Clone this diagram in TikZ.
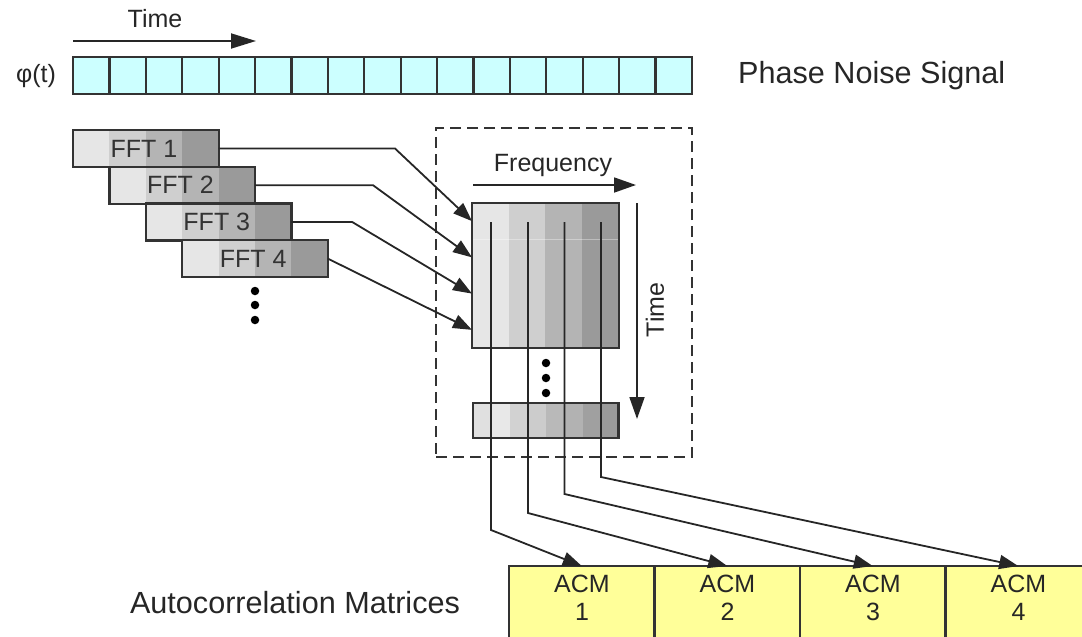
\documentclass[tikz,border=0pt]{standalone}
\usepackage{fontspec}
\setmainfont{Liberation Sans}
\usetikzlibrary{arrows.meta}
\definecolor{cyanc}{HTML}{CCFFFF}
\definecolor{acmc}{HTML}{FFFF99}
\definecolor{edge}{HTML}{333333}
\definecolor{gA}{HTML}{E6E6E6}
\definecolor{gB}{HTML}{CFCFCF}
\definecolor{gC}{HTML}{B4B4B4}
\definecolor{gD}{HTML}{9A9A9A}
\definecolor{s1}{HTML}{E0E0E0}
\definecolor{s2}{HTML}{E8E8E8}
\definecolor{s3}{HTML}{D2D2D2}
\definecolor{s4}{HTML}{CCCCCC}
\definecolor{s5}{HTML}{B9B9B9}
\definecolor{s6}{HTML}{B2B2B2}
\definecolor{s7}{HTML}{A0A0A0}
\definecolor{s8}{HTML}{9A9A9A}
\begin{document}
\begin{tikzpicture}[x=1pt,y=-1pt,
  bigtxt/.style={font=\fontsize{30.6}{36}\selectfont, inner sep=0, text=black!85},
  smalltxt/.style={font=\fontsize{25}{28}\selectfont, inner sep=0, text=black!85},
  box/.style={draw=edge, line width=2.2pt, inner sep=0, outer sep=0},
  conn/.style={draw=black!85, line width=1.8pt},
  tip/.style={-{Triangle[length=19pt,width=14pt]}},
  bigtip/.style={-{Triangle[length=22pt,width=15pt]}},
  blob/.style={circle, fill=black, inner sep=0, minimum size=8.5pt}
]
\useasboundingbox (0,0) rectangle (1082,637);

% ---- phase noise signal ----
\node[smalltxt] (timetop) at (155,19) {Time};
\coordinate (ta) at (73,41);
\coordinate (tb) at (256,41);
\draw[conn, -{Triangle[length=25pt,width=15pt]}] (ta) -- (tb);
\node[smalltxt] (phi) at (36,76) {φ(t)};
\node[box, fill=cyanc, minimum width=619pt, minimum height=37pt, anchor=north west] (phase) at (73,57) {};
\foreach \i in {1,...,16} \draw[edge, line width=2.2pt] (73+\i*36.41,57) -- ++(0,37);
\node[bigtxt, anchor=west] (pns) at (738,76) {Phase Noise Signal};

% ---- FFT blocks ----
\foreach \k in {1,...,4} {
  \pgfmathsetmacro\xo{73+(\k-1)*36.4}
  \pgfmathsetmacro\yo{130+(\k-1)*36.7}
  \fill[gA] (\xo,\yo) rectangle ++(36.4,37);
  \fill[gB] (\xo+36.4,\yo) rectangle ++(36.4,37);
  \fill[gC] (\xo+72.8,\yo) rectangle ++(36.4,37);
  \fill[gD] (\xo+109.2,\yo) rectangle ++(36.4,37);
  \node[box, minimum width=145.6pt, minimum height=37pt, anchor=north west] (fft\k) at (\xo,\yo) {};
  \node[smalltxt, text=edge] (fftt\k) at (\xo+71,\yo+18.5) {FFT \k};
}
\node[blob] (fd1) at (255,291) {};
\node[blob] (fd2) at (255,305) {};
\node[blob] (fd3) at (255,320) {};

% ---- dashed group ----
\node[draw=black!80, line width=1.8pt, dash pattern=on 11pt off 6pt, minimum width=256pt, minimum height=329pt, anchor=north west, inner sep=0, outer sep=0] (grp) at (436,128) {};

\node[smalltxt] (freq) at (553,165) {Frequency};
\coordinate (fa) at (473,185);
\coordinate (fb) at (636,185);
\draw[conn, bigtip] (fa) -- (fb);

\coordinate (tva) at (637,203);
\coordinate (tvb) at (637,419);
\draw[conn, bigtip] (tva) -- (tvb);
\node[smalltxt, rotate=90] (timev) at (655,310) {Time};

% matrix
\fill[gA] (472,203) rectangle (508.65,348);
\fill[gB] (508.65,203) rectangle (545.3,348);
\fill[gC] (545.3,203) rectangle (581.95,348);
\fill[gD] (581.95,203) rectangle (618.6,348);
\draw[white, opacity=0.35, line width=1pt] (472,239.5) -- (618.6,239.5);
\foreach \k in {1,...,4}
  \node[inner sep=0, outer sep=0, minimum width=146.6pt, minimum height=36.25pt, anchor=north west] (row\k) at (472,203+\k*36.25-36.25) {};
\node[box, minimum width=146.6pt, minimum height=145pt, anchor=north west] (mat) at (472,203) {};

\node[blob] (md1) at (546,363) {};
\node[blob] (md2) at (546,378) {};
\node[blob] (md3) at (546,393) {};

% last row
\fill[s1] (473,403) rectangle ++(18.25,35);
\fill[s2] (491.25,403) rectangle ++(18.25,35);
\fill[s3] (509.5,403) rectangle ++(18.25,35);
\fill[s4] (527.75,403) rectangle ++(18.25,35);
\fill[s5] (546,403) rectangle ++(18.25,35);
\fill[s6] (564.25,403) rectangle ++(18.25,35);
\fill[s7] (582.5,403) rectangle ++(18.25,35);
\fill[s8] (600.75,403) rectangle ++(17.75,35);
\node[box, minimum width=145.5pt, minimum height=35pt, anchor=north west] (lastrow) at (473,403) {};

% FFT -> matrix connectors
\draw[conn, tip] (fft1.east) -- (395,148.5) -- (row1.west);
\draw[conn, tip] (fft2.east) -- (373,185.2) -- (row2.west);
\draw[conn, tip] (fft3.east) -- (352,221.9) -- (row3.west);
\draw[conn, tip] (fft4.east) -- (row4.west);

% ---- ACM boxes ----
\foreach \k in {1,...,4} {
  \node[box, fill=acmc, minimum width=145.5pt, minimum height=85pt, anchor=north west] (acm\k) at (509+\k*145.5-145.5,566) {};
  \node[smalltxt, align=center] (acmt\k) at (582+\k*145.5-145.5,598) {ACM\\\k};
}
\node[bigtxt] (acl) at (295,603) {Autocorrelation Matrices};

% matrix columns -> ACM connectors
\coordinate (v1) at (491,222);
\coordinate (v2) at (528,222);
\coordinate (v3) at (564.5,222);
\coordinate (v4) at (601,222);
\draw[conn, tip] (v1) -- (491,530) -- (acm1.north);
\draw[conn, tip] (v2) -- (528,513) -- (acm2.north);
\draw[conn, tip] (v3) -- (564.5,494) -- (acm3.north);
\draw[conn, tip] (v4) -- (601,477) -- (acm4.north);
\end{tikzpicture}
\end{document}
